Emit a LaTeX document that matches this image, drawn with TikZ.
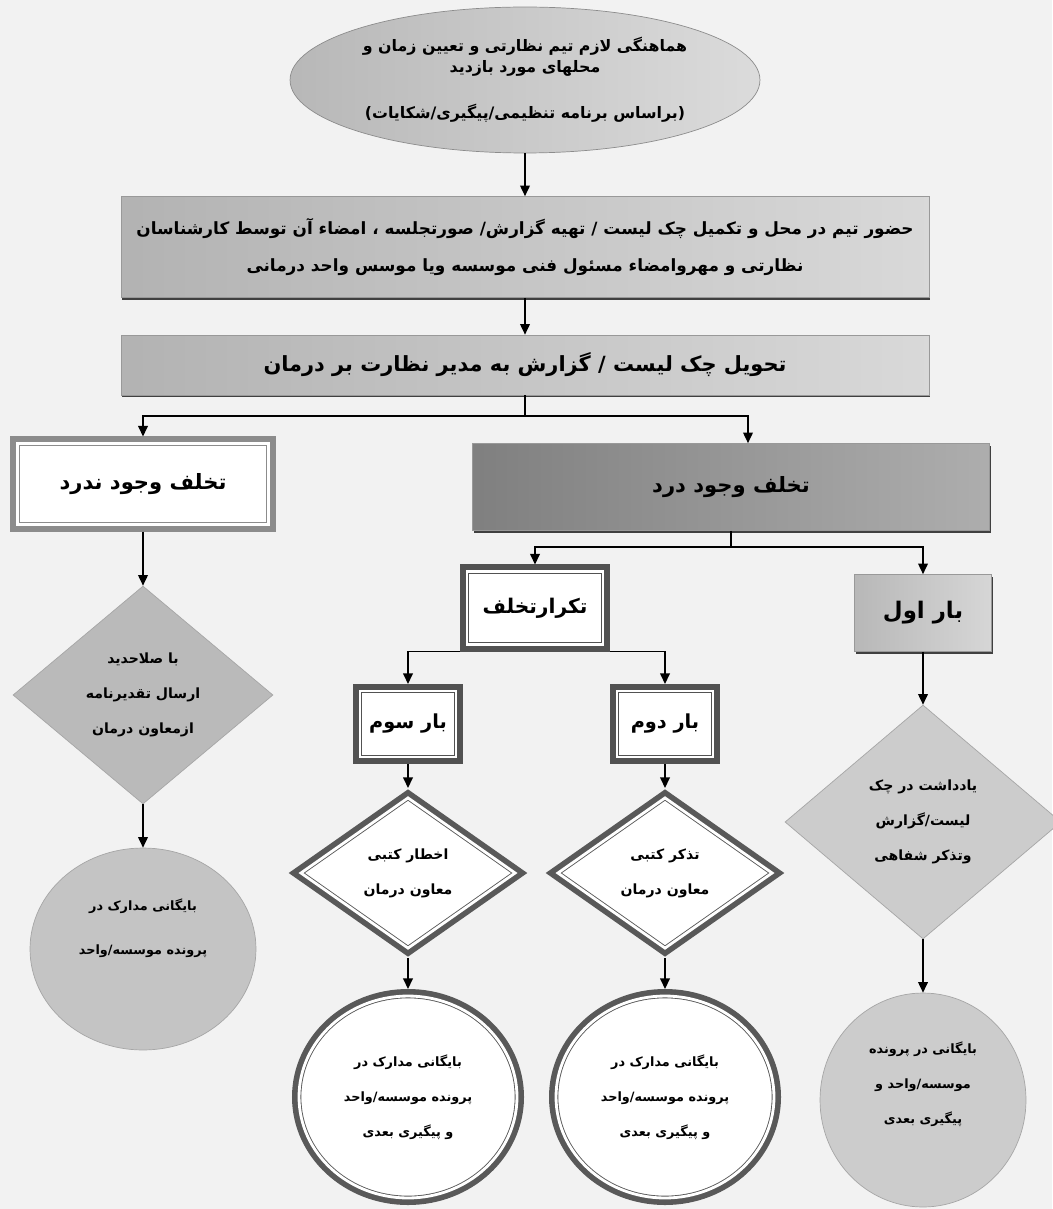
\documentclass[tikz,border=0pt]{standalone}
\usepackage{fontspec}
\usepackage{tikz}
\usetikzlibrary{
    arrows.meta,
    shapes.geometric,
    shadows,
    calc,
    positioning
}
\newfontfamily\farsi[Script=Arabic]{DejaVu Sans}
\TeXXeTstate=1
\newcommand{\rl}[1]{\beginR #1\endR}
\tikzset{
    arr/.style={line width=0.8pt, -{Triangle[length=6pt, width=5.5pt]}},
    wire/.style={line width=0.8pt},
    shadebox/.style={rectangle, draw=black!40, line width=0.4pt, align=center, inner sep=0pt,
        drop shadow={shadow xshift=0.6pt, shadow yshift=-1.3pt, fill=black!75, opacity=1}},
    dblframe/.style={preaction={draw=#1, line width=8pt}, fill=white, draw=#1, double=white,
        double distance=1.6pt, line width=0.5pt, outer sep=4pt, align=center, inner sep=0pt},
    flatshape/.style={draw=black!35, line width=0.4pt, align=center, inner sep=0pt},
    bigtxt/.style={font=\farsi\bfseries\fontsize{12}{15}\selectfont},
    midtxt/.style={font=\farsi\bfseries\fontsize{9.6}{21.5}\selectfont},
    smalltxt/.style={font=\farsi\bfseries\fontsize{8}{20}\selectfont},
    roundtxt/.style={font=\farsi\bfseries\fontsize{7.3}{20}\selectfont}
}

\begin{document}
\begin{tikzpicture}[x=0.02cm, y=-0.02cm]
    \path[use as bounding box, fill=black!5] (0,0) rectangle (1052,1209);

    \node[ellipse, flatshape, draw=black!45, left color=black!28, right color=black!14,
        minimum width=9.4cm, minimum height=2.92cm,
        font=\farsi\bfseries\fontsize{9}{11.5}\selectfont] (plan) at (525,80)
        {\rl{هماهنگی لازم تیم نظارتی و تعیین زمان و}\\ \rl{محلهای مورد بازدید}\\[15pt]
         \rl{(براساس برنامه تنظیمی/پیگیری/شکایات)}};
    \node[shadebox, midtxt, left color=black!30, right color=black!15,
        minimum width=16.16cm, minimum height=2.02cm] (visit) at (525,247)
        {\rl{حضور تیم در محل و تکمیل چک لیست / تهیه گزارش/ صورتجلسه ، امضاء آن توسط کارشناسان}\\
         \rl{نظارتی و مهروامضاء مسئول فنی موسسه ویا موسس واحد درمانی}};
    \node[shadebox, font=\farsi\bfseries\fontsize{11.9}{15}\selectfont,
        left color=black!30, right color=black!15,
        minimum width=16.16cm, minimum height=1.2cm] (deliver) at (525,365)
        {\rl{تحویل چک لیست / گزارش به مدیر نظارت بر درمان}};

    \node[dblframe=black!45, bigtxt, minimum width=5.02cm, minimum height=1.62cm] (noviol) at (143,484)
        {\rl{تخلف وجود ندرد}};
    \node[shadebox, bigtxt, left color=black!50, right color=black!32,
        minimum width=10.34cm, minimum height=1.74cm] (viol) at (731,487)
        {\rl{تخلف وجود درد}};

    \node[dblframe=black!68, font=\farsi\bfseries\fontsize{11.5}{14}\selectfont,
        minimum width=2.72cm, minimum height=1.46cm] (tekrar) at (535,608) {\rl{تکرارتخلف}};
    \node[shadebox, font=\farsi\bfseries\fontsize{13}{16}\selectfont,
        left color=black!28, right color=black!16,
        minimum width=2.74cm, minimum height=1.54cm] (avval) at (923,613) {\rl{بار اول}};
    \node[dblframe=black!68, font=\farsi\bfseries\fontsize{11}{14}\selectfont,
        minimum width=1.92cm, minimum height=1.32cm] (sevvom) at (408,724) {\rl{بار سوم}};
    \node[dblframe=black!68, font=\farsi\bfseries\fontsize{11}{14}\selectfont,
        minimum width=1.92cm, minimum height=1.32cm] (dovvom) at (665,724) {\rl{بار دوم}};

    \node[diamond, flatshape, smalltxt, fill=black!27,
        minimum width=5.2cm, minimum height=4.36cm] (dnov) at (143,695)
        {\rl{با صلاحدید}\\ \rl{ارسال تقدیرنامه}\\ \rl{ازمعاون درمان}};
    \node[diamond, dblframe=black!65, smalltxt,
        minimum width=4.4cm, minimum height=3.12cm] (dsev) at (408,873)
        {\rl{اخطار کتبی}\\ \rl{معاون درمان}};
    \node[diamond, dblframe=black!65, smalltxt,
        minimum width=4.4cm, minimum height=3.12cm] (ddov) at (665,873)
        {\rl{تذکر کتبی}\\ \rl{معاون درمان}};
    \node[diamond, flatshape, smalltxt, fill=black!20,
        minimum width=5.52cm, minimum height=4.68cm] (davval) at (923,822)
        {\rl{یادداشت در چک}\\ \rl{لیست/گزارش}\\ \rl{وتذکر شفاهی}};

    \node[ellipse, flatshape, font=\farsi\bfseries\fontsize{7.3}{25}\selectfont, fill=black!23,
        minimum width=4.52cm, minimum height=4.04cm] (cnov) at (143,949)
        {\rl{بایگانی مدارک در}\\ \rl{پرونده موسسه/واحد}\\ \mbox{}};
    \node[ellipse, dblframe=black!65, roundtxt,
        minimum width=4.36cm, minimum height=4.04cm] (csev) at (408,1097)
        {\rl{بایگانی مدارک در}\\ \rl{پرونده موسسه/واحد}\\ \rl{و پیگیری بعدی}};
    \node[ellipse, dblframe=black!65, roundtxt,
        minimum width=4.36cm, minimum height=4.04cm] (cdov) at (665,1097)
        {\rl{بایگانی مدارک در}\\ \rl{پرونده موسسه/واحد}\\ \rl{و پیگیری بعدی}};
    \node[ellipse, flatshape, roundtxt, fill=black!20,
        minimum width=4.12cm, minimum height=4.28cm] (cavval) at (923,1100)
        {\rl{بایگانی در پرونده}\\ \rl{موسسه/واحد و}\\ \rl{پیگیری بعدی}\\ \mbox{}};

    \coordinate (fork1) at (525,416);
    \coordinate (fork2) at (731,547);
    \draw[arr] (plan) -- (visit);
    \draw[arr] (visit) -- (deliver);
    \draw[wire] (deliver) -- (fork1);
    \draw[arr] (fork1) -| (noviol);
    \draw[arr] (fork1) -| ([xshift=0.34cm]viol.north);
    \draw[wire] (viol) -- (fork2);
    \draw[arr] (fork2) -| (tekrar);
    \draw[arr] (fork2) -| (avval);
    \draw[arr] (tekrar.south west) -| (sevvom);
    \draw[arr] (tekrar.south east) -| (dovvom);
    \foreach \a/\b in {noviol/dnov, dnov/cnov, sevvom/dsev, dsev/csev, dovvom/ddov, ddov/cdov, avval/davval, davval/cavval}
        \draw[arr] (\a) -- (\b);
\end{tikzpicture}
\end{document}
